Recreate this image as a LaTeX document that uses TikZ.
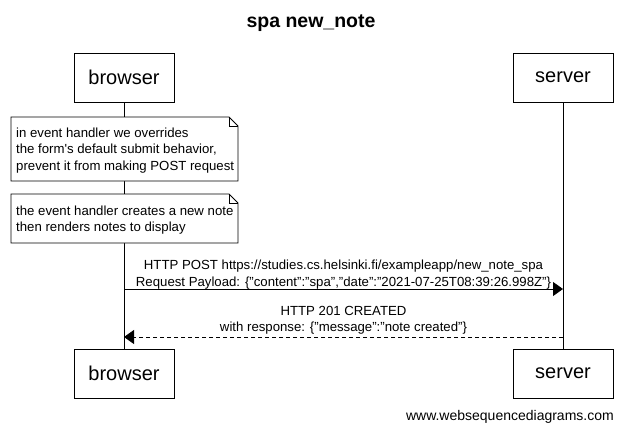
\documentclass[tikz,border=0pt]{standalone}
\usepackage{fontspec}
\setmainfont{Liberation Sans}
\usetikzlibrary{arrows.meta}
\begin{document}
\begin{tikzpicture}[x=1pt,y=-1pt,
  actor/.style={draw,line width=0.8pt,minimum width=100pt,minimum height=49pt,font=\fontsize{20}{24}\selectfont,inner sep=0pt},
  lbl/.style={font=\fontsize{13.2}{16.5}\selectfont,align=center,inner sep=0pt},
  notetxt/.style={font=\fontsize{13.2}{16.5}\selectfont,align=left,inner sep=0pt,anchor=north west},
  life/.style={line width=0.8pt},
  msg/.style={line width=0.8pt,-{Triangle[length=10pt,width=14pt]}},
  note/.style={draw,line width=0.8pt,fill=white}]
\useasboundingbox (0,0) rectangle (622,432);
\node[font=\bfseries\fontsize{19.5}{22}\selectfont] (title) at (311,23) {spa new\_note};
\node[actor] (bt) at (124,77.5) {browser};
\node[actor] (st) at (563,77.5) {server};
\node[actor] (bb) at (124,373.5) {browser};
\node[actor] (sb) at (563,373.5) {server};
\draw[life] (bt.south) -- (bb.north);
\draw[life] (st.south) -- (sb.north);
% notes
\draw[note] (11,117) -- (229,117) -- (238,126) -- (238,181) -- (11,181) -- cycle;
\draw[line width=0.8pt] (229,117) -- (229,126) -- (238,126);
\node[notetxt] (n1) at (16,127.5) {in event handler we overrides\\the form\textquotesingle s default submit behavior,\\prevent it from making POST request};
\draw[note] (11,194) -- (229,194) -- (238,203) -- (238,243) -- (11,243) -- cycle;
\draw[line width=0.8pt] (229,194) -- (229,203) -- (238,203);
\node[notetxt] (n2) at (16,205.5) {the event handler creates a new note\\then renders notes to display};
% messages
\coordinate (a1) at (124,289);
\coordinate (b1) at (563,289);
\draw[msg] (a1) -- (b1);
\node[lbl] (m1) at (343.5,274.5) {HTTP POST https://studies.cs.helsinki.fi/exampleapp/new\_note\_spa\\Request Payload: \{"content":"spa","date":"2021-07-25T08:39:26.998Z"\}};
\coordinate (a2) at (563,337);
\coordinate (b2) at (124,337);
\draw[msg,dashed,dash pattern=on 4pt off 3pt] (a2) -- (b2);
\node[lbl] (m2) at (343.5,320.5) {HTTP 201 CREATED\\with response: \{"message":"note created"\}};
\node[font=\fontsize{14}{16}\selectfont,anchor=east,inner sep=0pt] (wm) at (614,417) {www.websequencediagrams.com};
\end{tikzpicture}
\end{document}
